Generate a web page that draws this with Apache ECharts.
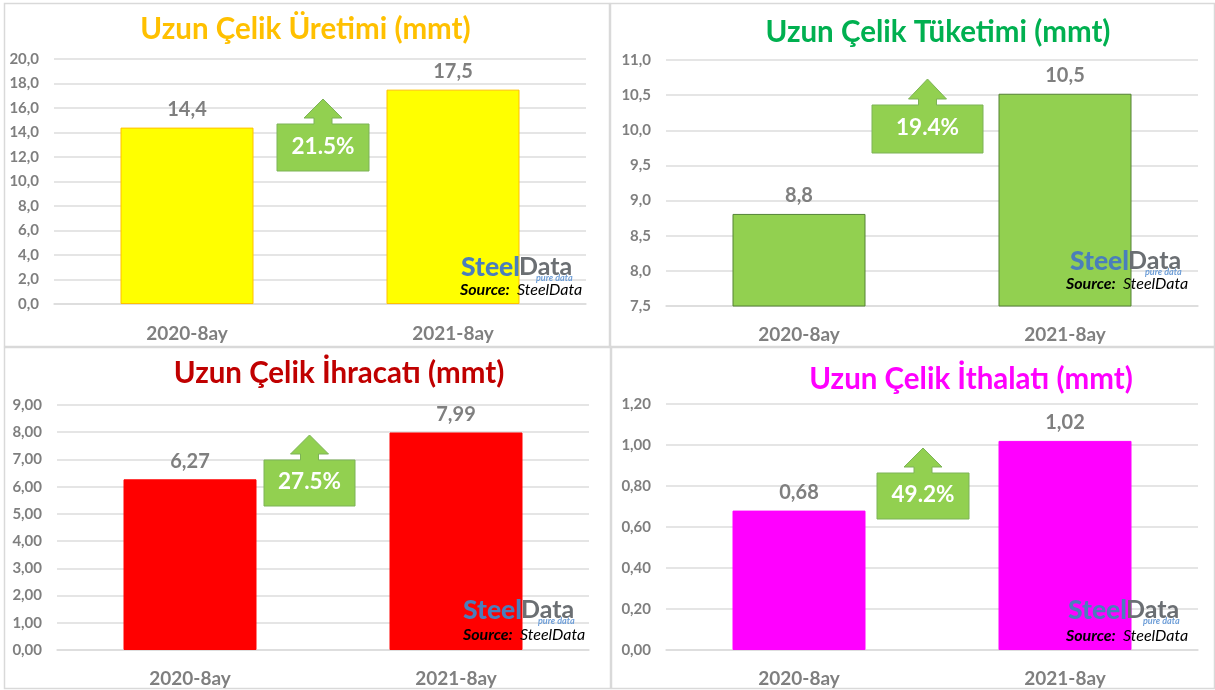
<!DOCTYPE html>
<html><head><meta charset="utf-8">
<style>html,body{margin:0;padding:0;background:#fff}#c{width:1215px;height:690px}</style>
<script src="https://cdn.jsdelivr.net/npm/echarts@6/dist/echarts.min.js"></script>
</head><body><div id="c"></div>
<script>
const categories = ['2020-8ay', '2021-8ay'];
const titles = ['Uzun Çelik Üretimi (mmt)', 'Uzun Çelik Tüketimi (mmt)', 'Uzun Çelik İhracatı (mmt)', 'Uzun Çelik İthalatı (mmt)'];
const uretim = [14.4, 17.5];
const tuketim = [8.81, 10.52];
const ihracat = [6.27, 7.99];
const ithalat = [0.68, 1.02];
const changes = ['21.5%', '19.4%', '27.5%', '49.2%'];

const gray = '#7f7f7f', gridCol = '#dcdcdc', font = 'Lato';
const panels = [
 {data: uretim, dec: 1, min: 0, max: 20, step: 2, color: '#ffff00', border: '#ffc000', titleCol: '#ffc000', tx: 305.5, ty: 14,
  grid: {left: 54, width: 532, top: 59, height: 245}, box: [4, 3, 605, 343], catM: 20,
  call: [277, 124, 92, 47, 25], logo: [461, 267], src: [460, 290]},
 {data: tuketim, dec: 1, min: 7.5, max: 11, step: 0.5, color: '#92d050', border: '#548235', titleCol: '#00b050', tx: 938, ty: 17,
  grid: {left: 666, width: 532, top: 60, height: 246}, box: [610, 3, 604, 343], catM: 19,
  call: [872, 105, 111, 48, 26], logo: [1070, 261], src: [1066, 284]},
 {data: ihracat, dec: 2, min: 0, max: 9, step: 1, color: '#ff0000', border: '#ff0000', titleCol: '#c00000', tx: 339, ty: 358,
  grid: {left: 57, width: 532, top: 405, height: 245}, box: [4, 347, 606, 341], catM: 19,
  call: [264, 460, 91, 46, 25], logo: [463, 610], src: [463, 635]},
 {data: ithalat, dec: 2, min: 0, max: 1.2, step: 0.2, color: '#ff00ff', border: '#ff00ff', titleCol: '#ff00ff', tx: 971, ty: 364,
  grid: {left: 666, width: 532, top: 404, height: 246}, box: [611, 347, 603, 341], catM: 19,
  call: [877, 473, 92, 46, 25], logo: [1068, 610], src: [1066, 636]}
];
const comma = (v, d) => v.toFixed(d).replace('.', ',');

const graphics = [];
panels.forEach((p, i) => {
  graphics.push({type: 'rect', z: 0, shape: {x: p.box[0] + .5, y: p.box[1] + .5, width: p.box[2], height: p.box[3]},
    style: {fill: 'none', stroke: '#d9d9d9', lineWidth: 1.5}});
  const [x, y, w, h, rise] = p.call, cx = x + w / 2, headY = y - 6;
  graphics.push({type: 'polygon', z: 50, shape: {points: [
    [x, y], [cx - 9, y], [cx - 9, headY], [cx - 19, headY], [cx, y - rise], [cx + 19, headY], [cx + 9, headY], [cx + 9, y], [x + w, y], [x + w, y + h], [x, y + h]
  ]}, style: {fill: '#92d050', stroke: '#7cb356', lineWidth: 1}});
  graphics.push({type: 'text', z: 51, style: {x: cx, y: y + h / 2 - 1, text: changes[i], fill: '#fff', font: 'bold 22.5px ' + font, textAlign: 'center', textVerticalAlign: 'middle'}});
  graphics.push({type: 'text', z: 52, style: {x: p.logo[0], y: p.logo[1], text: 'Steel', fill: '#4a7ebb', font: '900 26.5px ' + font, textVerticalAlign: 'middle'}});
  graphics.push({type: 'text', z: 52, style: {x: p.logo[0] + 58, y: p.logo[1], text: 'Data', fill: '#6b6f73', font: 'bold 25px ' + font, textVerticalAlign: 'middle'}});
  graphics.push({type: 'text', z: 53, style: {x: p.logo[0] + 75, y: p.logo[1] + 11, text: 'pure data', fill: '#6f9fd8', font: 'italic bold 9px ' + font, textVerticalAlign: 'middle'}});
  graphics.push({type: 'text', z: 52, style: {x: p.src[0], y: p.src[1], text: 'Source:', fill: '#000', font: 'italic bold 16px ' + font, textVerticalAlign: 'middle'}});
  graphics.push({type: 'text', z: 52, style: {x: p.src[0] + 57, y: p.src[1], text: 'SteelData', fill: '#000', font: 'italic 16px ' + font, textVerticalAlign: 'middle'}});
});

const option = {
  animation: false,
  backgroundColor: '#fff',
  title: panels.map((p, i) => ({text: titles[i], left: p.tx, top: p.ty, textAlign: 'center', padding: 0,
    textStyle: {color: p.titleCol, fontFamily: font, fontWeight: 'bold', fontSize: 29.5}})),
  grid: panels.map(p => p.grid),
  xAxis: panels.map((p, i) => ({type: 'category', gridIndex: i, data: categories,
    axisTick: {show: false}, axisLine: {lineStyle: {color: gridCol, width: 1.5}},
    axisLabel: {color: gray, fontFamily: font, fontWeight: 'bold', fontSize: 19, margin: p.catM}})),
  yAxis: panels.map((p, i) => ({type: 'value', gridIndex: i, min: p.min, max: p.max, interval: p.step,
    axisLine: {show: false}, axisTick: {show: false},
    splitLine: {lineStyle: {color: gridCol, width: 1.5}},
    axisLabel: {color: gray, fontFamily: font, fontWeight: 'bold', fontSize: 15, margin: 15,
      formatter: v => comma(v, panels[i].dec)}})),
  series: panels.map((p, i) => ({type: 'bar', xAxisIndex: i, yAxisIndex: i, data: p.data, barWidth: '50%',
    itemStyle: {color: p.color, borderColor: p.border, borderWidth: 1},
    label: {show: true, position: 'top', distance: 8, color: gray, fontFamily: font, fontWeight: 'bold', fontSize: 20,
      formatter: o => comma(o.value, p.dec)}})),
  graphic: {elements: graphics}
};
echarts.init(document.getElementById('c'), null, {renderer: 'canvas'}).setOption(option);
</script></body></html>
